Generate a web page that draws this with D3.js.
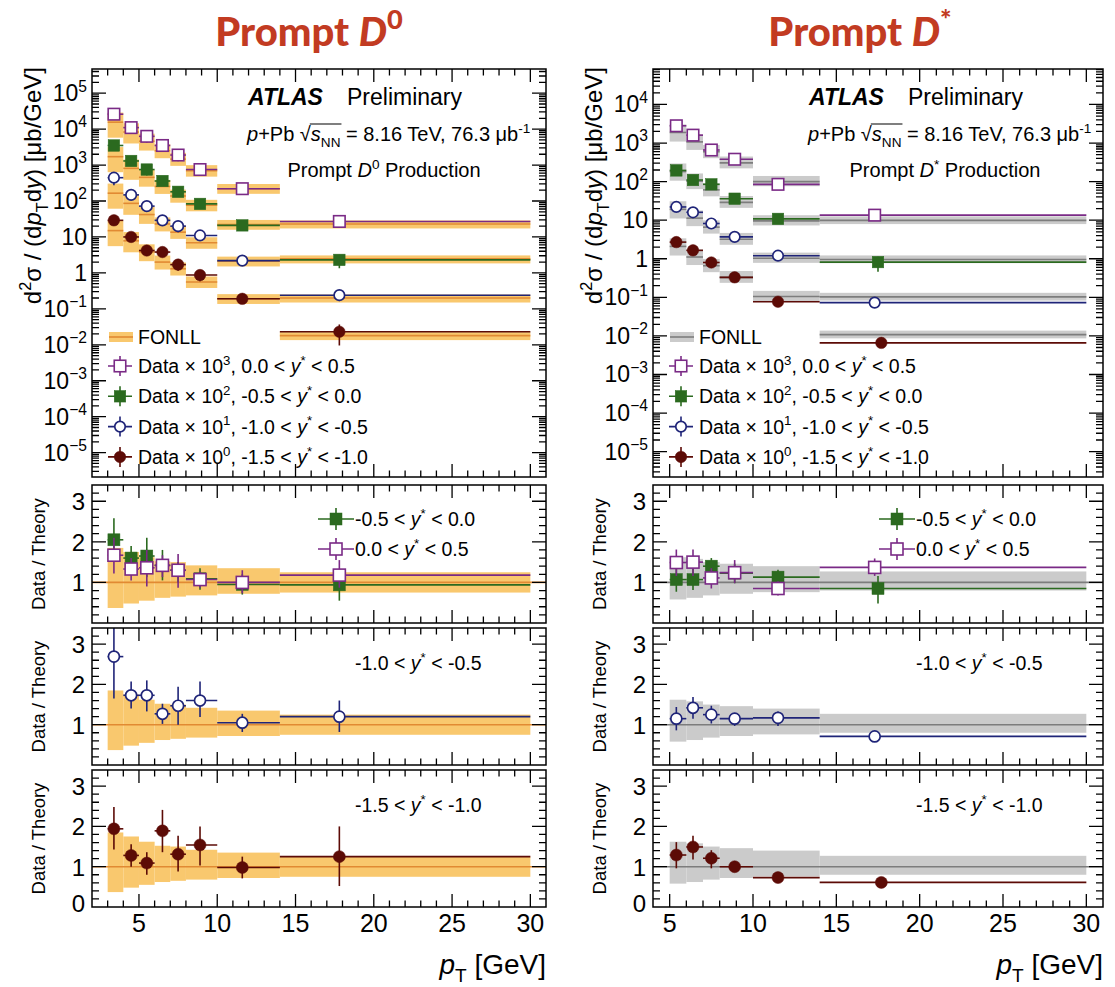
<!DOCTYPE html>
<html>
<head>
<meta charset="utf-8">
<script src="https://cdn.jsdelivr.net/npm/d3@7"></script>
<style>
body { margin: 0; background: #fff; }
text { font-family: "Liberation Sans", Arial, Helvetica, sans-serif; }
</style>
</head>
<body>
<div id="chart"></div>
<script>
// ---- data ----
var d0Edges  = [3, 4, 5, 6, 7, 8, 10, 14, 30];
var dstEdges = [5, 6, 7, 8, 10, 14, 30];

// mean pT of each bin, per rapidity slice
var d0PtPos  = [3.4, 4.5, 5.5, 6.5, 7.5, 8.9, 11.6, 17.8];
var d0PtMid  = [3.4, 4.5, 5.5, 6.5, 7.5, 8.9, 11.6, 17.8];
var d0PtNeg  = [3.4, 4.5, 5.5, 6.5, 7.5, 8.9, 11.6, 17.8];
var d0PtFwd  = [3.4, 4.5, 5.5, 6.5, 7.5, 8.9, 11.6, 17.8];
var dstPtPos = [5.4, 6.4, 7.5, 8.9, 11.5, 17.3];
var dstPtMid = [5.4, 6.4, 7.5, 8.9, 11.5, 17.5];
var dstPtNeg = [5.4, 6.4, 7.5, 8.9, 11.5, 17.3];
var dstPtFwd = [5.4, 6.4, 7.5, 8.9, 11.5, 17.7];

// cross sections as plotted (already scaled by 10^3, 10^2, 10^1, 10^0)
var d0DataPos  = [26000, 11000, 6300, 3500, 1900, 750, 220, 27];
var d0DataMid  = [3500, 1300, 750, 360, 180, 83, 21, 2.3];
var d0DataNeg  = [445, 148, 72, 29, 20, 11, 2.2, 0.24];
var d0DataFwd  = [29, 10, 4.2, 3.8, 1.7, 0.87, 0.19, 0.023];
var dstDataPos = [2800, 1600, 660, 380, 85, 13.5];
var dstDataMid = [195, 110, 85, 36, 10.8, 0.82];
var dstDataNeg = [22, 16, 8.2, 3.7, 1.2, 0.073];
var dstDataFwd = [2.7, 1.65, 0.8, 0.33, 0.077, 0.0066];

// FONLL central values (same scaling)
var d0FonllPos  = [15600, 8300, 4600, 2500, 1460, 700, 220, 23];
var d0FonllMid  = [1710, 810, 455, 254, 138, 76, 22, 2.45];
var d0FonllNeg  = [165, 86, 42, 23, 13.6, 6.9, 2.1, 0.2];
var d0FonllFwd  = [15, 7.8, 3.85, 2.0, 1.3, 0.56, 0.19, 0.018];
var dstFonllPos = [1880, 1070, 595, 306, 100, 9.9];
var dstFonllMid = [182, 103, 61, 29, 9.6, 0.96];
var dstFonllNeg = [19.1, 11.3, 6.6, 3.2, 1.03, 0.103];
var dstFonllFwd = [2.09, 1.11, 0.66, 0.33, 0.105, 0.0108];

// FONLL uncertainty band relative to central value
var d0BandLo  = [0.37, 0.48, 0.55, 0.62, 0.65, 0.68, 0.72, 0.75];
var d0BandHi  = [1.85, 1.75, 1.62, 1.52, 1.50, 1.42, 1.35, 1.25];
var dstBandLo = [0.58, 0.62, 0.68, 0.72, 0.76, 0.80];
var dstBandHi = [1.62, 1.58, 1.50, 1.46, 1.40, 1.27];

// Data / Theory with error bar ends
var d0RatioPos   = [1.67, 1.33, 1.36, 1.42, 1.30, 1.07, 1.00, 1.18];
var d0RatioPosLo = [1.22, 1.05, 0.90, 1.13, 0.87, 0.87, 0.73, 0.87];
var d0RatioPosHi = [2.10, 1.60, 1.80, 1.67, 1.70, 1.27, 1.30, 1.55];
var d0RatioMid   = [2.05, 1.60, 1.65, 1.42, 1.30, 1.09, 0.95, 0.94];
var d0RatioMidLo = [1.58, 1.27, 1.13, 1.05, 1.00, 0.82, 0.70, 0.55];
var d0RatioMidHi = [2.58, 1.90, 2.10, 1.80, 1.50, 1.35, 1.20, 1.30];
var d0RatioNeg   = [2.69, 1.73, 1.73, 1.27, 1.47, 1.60, 1.05, 1.20];
var d0RatioNegLo = [1.65, 1.40, 1.33, 1.02, 1.00, 1.19, 0.82, 0.82];
var d0RatioNegHi = [3.70, 2.07, 2.10, 1.52, 1.94, 2.07, 1.27, 1.60];
var d0RatioFwd   = [1.94, 1.28, 1.09, 1.89, 1.31, 1.54, 0.98, 1.25];
var d0RatioFwdLo = [1.43, 1.00, 0.80, 1.36, 0.88, 1.03, 0.71, 0.52];
var d0RatioFwdHi = [2.48, 1.56, 1.36, 2.41, 1.77, 2.00, 1.25, 2.00];

var dstRatioPos   = [1.49, 1.50, 1.11, 1.24, 0.85, 1.37];
var dstRatioPosLo = [1.16, 1.16, 0.85, 0.98, 0.68, 1.16];
var dstRatioPosHi = [1.81, 1.81, 1.35, 1.55, 1.03, 1.59];
var dstRatioMid   = [1.07, 1.07, 1.40, 1.23, 1.13, 0.85];
var dstRatioMidLo = [0.77, 0.81, 1.16, 0.98, 0.94, 0.48];
var dstRatioMidHi = [1.37, 1.33, 1.60, 1.46, 1.31, 1.16];
var dstRatioNeg   = [1.15, 1.42, 1.25, 1.15, 1.17, 0.71];
var dstRatioNegLo = [0.86, 1.15, 1.03, 0.97, 0.97, 0.68];
var dstRatioNegHi = [1.44, 1.69, 1.47, 1.28, 1.33, 0.74];
var dstRatioFwd   = [1.29, 1.49, 1.21, 1.00, 0.73, 0.61];
var dstRatioFwdLo = [0.96, 1.18, 0.96, 0.93, 0.68, 0.57];
var dstRatioFwdHi = [1.61, 1.77, 1.41, 1.07, 0.78, 0.65];

var yRanges  = [["0.0", "0.5"], ["-0.5", "0.0"], ["-1.0", "-0.5"], ["-1.5", "-1.0"]];
var scalePow = ["3", "2", "1", "0"];
var xTickLabels = [5, 10, 15, 20, 25, 30];
var ratioTickLabels = [0, 1, 2, 3];

// ---- styling ----
var colPurple = "#7a2a86", colGreen = "#2b6a1f", colBlue = "#1f2478", colRed = "#5c0b06";
var W = 1115, H = 987;
var rows = { top: [69, 477], r1: [485, 623], r2: [628, 765], r3: [770, 907] };
var ratioDom = [0, 3.4];

var svg = d3.select("#chart").append("svg").attr("width", W).attr("height", H);

function rich(sel, parts, size) {
    var shift = 0;
    parts.forEach(function (p) {
        var ts = sel.append("tspan").text(p.t);
        var target = p.sup ? -0.42 * size : (p.sub ? 0.3 * size : 0);
        ts.attr("dy", target - shift);
        shift = target;
        if (p.sup || p.sub) ts.attr("font-size", size * 0.68);
        if (p.i) ts.attr("font-style", "italic");
        if (p.b) ts.attr("font-weight", "bold");
        if (p.cls) ts.attr("class", p.cls);
    });
}

function makeSeries(pt, data, fonll, r, rlo, rhi, color, shape, idx) {
    return pt.map(function (x, i) {
        return { pt: x, i: i, data: data[i], fonll: fonll[i], r: r[i], rlo: rlo[i], rhi: rhi[i],
                 color: color, shape: shape, idx: idx };
    });
}

var columns = [
    {
        name: "D0", x0: 92, x1: 546, xDom: [2, 31], yDom: [2.1e-6, 4.7e5],
        edges: d0Edges, bandLo: d0BandLo, bandHi: d0BandHi,
        band: "#f9c86e", line: "#e18a33", titleX: 309,
        title: [{ t: "Prompt " }, { t: "D", i: true }, { t: "0", sup: true }],
        prod: [{ t: "Prompt " }, { t: "D", i: true }, { t: "0", sup: true }, { t: " Production" }],
        series: [
            makeSeries(d0PtPos, d0DataPos, d0FonllPos, d0RatioPos, d0RatioPosLo, d0RatioPosHi, colPurple, "osq", 0),
            makeSeries(d0PtMid, d0DataMid, d0FonllMid, d0RatioMid, d0RatioMidLo, d0RatioMidHi, colGreen, "sq", 1),
            makeSeries(d0PtNeg, d0DataNeg, d0FonllNeg, d0RatioNeg, d0RatioNegLo, d0RatioNegHi, colBlue, "oci", 2),
            makeSeries(d0PtFwd, d0DataFwd, d0FonllFwd, d0RatioFwd, d0RatioFwdLo, d0RatioFwdHi, colRed, "ci", 3)
        ],
        decades: [-5, 5]
    },
    {
        name: "Dst", x0: 653, x1: 1103, xDom: [4, 31], yDom: [2.2e-6, 8.3e4],
        edges: dstEdges, bandLo: dstBandLo, bandHi: dstBandHi,
        band: "#cbcbcb", line: "#7d7d7d", titleX: 860,
        title: [{ t: "Prompt " }, { t: "D", i: true }, { t: "*", sup: true }],
        prod: [{ t: "Prompt " }, { t: "D", i: true }, { t: "*", sup: true }, { t: " Production" }],
        series: [
            makeSeries(dstPtPos, dstDataPos, dstFonllPos, dstRatioPos, dstRatioPosLo, dstRatioPosHi, colPurple, "osq", 0),
            makeSeries(dstPtMid, dstDataMid, dstFonllMid, dstRatioMid, dstRatioMidLo, dstRatioMidHi, colGreen, "sq", 1),
            makeSeries(dstPtNeg, dstDataNeg, dstFonllNeg, dstRatioNeg, dstRatioNegLo, dstRatioNegHi, colBlue, "oci", 2),
            makeSeries(dstPtFwd, dstDataFwd, dstFonllFwd, dstRatioFwd, dstRatioFwdLo, dstRatioFwdHi, colRed, "ci", 3)
        ],
        decades: [-5, 4]
    }
];

function marker(g, cx, cy, shape, color, s) {
    if (shape === "sq" || shape === "osq") {
        g.append("rect").attr("x", cx - s / 2).attr("y", cy - s / 2).attr("width", s).attr("height", s)
         .style("fill", shape === "sq" ? color : "#fff").style("stroke", color)
         .style("stroke-width", shape === "sq" ? 0.5 : 1.6);
    } else {
        g.append("circle").attr("cx", cx).attr("cy", cy).attr("r", s / 2 - (shape === "oci" ? 0.5 : 0))
         .style("fill", shape === "ci" ? color : "#fff").style("stroke", color)
         .style("stroke-width", shape === "ci" ? 0.5 : 1.7);
    }
}

function xTicks(g, x, y0, y1, col) {
    var ints = d3.range(Math.ceil(col.xDom[0]), Math.floor(col.xDom[1]) + 1)
                 .filter(function (v) { return v > col.xDom[0] && v < col.xDom[1]; });
    g.selectAll(null).data(ints).enter().append("path")
     .attr("d", function (v) {
         var L = v % 5 === 0 ? 13 : 6.5, X = x(v);
         return "M" + X + "," + y1 + "v" + (-L) + "M" + X + "," + y0 + "v" + L;
     })
     .style("stroke", "#000").style("stroke-width", 1.3);
}

function frame(g, col, y0, y1) {
    g.append("rect").attr("x", col.x0).attr("y", y0).attr("width", col.x1 - col.x0).attr("height", y1 - y0)
     .style("fill", "none").style("stroke", "#000").style("stroke-width", 1.5);
}

columns.forEach(function (col, ci) {
    var g = svg.append("g").attr("id", "col-" + col.name);
    var x = d3.scaleLinear().domain(col.xDom).range([col.x0, col.x1]);

    // big title above
    var tt = g.append("text").attr("x", col.titleX).attr("y", 46)
        .attr("text-anchor", "middle").style("font-family", "Lato, 'Open Sans', sans-serif")
        .style("font-weight", "900").style("font-size", "40px").style("fill", "#c23b22");
    rich(tt, col.title, 40);

    // ------------- top panel -------------
    var yT = d3.scaleLog().domain(col.yDom).range([rows.top[1], rows.top[0]]);
    var clipId = "clip-top-" + col.name;
    g.append("clipPath").attr("id", clipId).append("rect")
     .attr("x", col.x0).attr("y", rows.top[0]).attr("width", col.x1 - col.x0).attr("height", rows.top[1] - rows.top[0]);
    var top = g.append("g").attr("clip-path", "url(#" + clipId + ")");

    col.series.forEach(function (s) {
        top.append("g").selectAll("rect").data(s).enter().append("rect")
           .attr("x", function (d) { return x(col.edges[d.i]); })
           .attr("width", function (d) { return x(col.edges[d.i + 1]) - x(col.edges[d.i]); })
           .attr("y", function (d) { return yT(d.fonll * col.bandHi[d.i]); })
           .attr("height", function (d) { return yT(d.fonll * col.bandLo[d.i]) - yT(d.fonll * col.bandHi[d.i]); })
           .style("fill", col.band);
    });
    col.series.forEach(function (s) {
        top.append("g").selectAll("line").data(s).enter().append("line")
           .attr("x1", function (d) { return x(col.edges[d.i]); })
           .attr("x2", function (d) { return x(col.edges[d.i + 1]); })
           .attr("y1", function (d) { return yT(d.fonll); })
           .attr("y2", function (d) { return yT(d.fonll); })
           .style("stroke", col.line).style("stroke-width", 1.6);
    });
    col.series.forEach(function (s) {
        var sg = top.append("g").attr("class", "series");
        s.forEach(function (d) {
            var yy = yT(d.data);
            sg.append("line").attr("x1", x(col.edges[d.i])).attr("x2", x(col.edges[d.i + 1]))
              .attr("y1", yy).attr("y2", yy).style("stroke", d.color).style("stroke-width", 1.6);
            sg.append("line").attr("x1", x(d.pt)).attr("x2", x(d.pt))
              .attr("y1", yT(d.data * d.rhi / d.r)).attr("y2", yT(d.data * d.rlo / d.r))
              .style("stroke", d.color).style("stroke-width", 1.6);
            marker(sg, x(d.pt), yy, d.shape, d.color, 11.5);
        });
    });

    frame(g, col, rows.top[0], rows.top[1]);
    xTicks(g, x, rows.top[0], rows.top[1], col);

    // log y ticks
    var minors = [];
    for (var k = -7; k <= 6; k++) {
        for (var m = 1; m <= 9; m++) {
            var v = m * Math.pow(10, k);
            if (v > col.yDom[0] && v < col.yDom[1]) minors.push({ v: v, major: m === 1, k: k });
        }
    }
    g.append("g").selectAll("path").data(minors).enter().append("path")
     .attr("d", function (d) {
         var L = d.major ? 14 : 7, Y = yT(d.v);
         return "M" + col.x0 + "," + Y + "h" + L + "M" + col.x1 + "," + Y + "h" + (-L);
     })
     .style("stroke", "#000").style("stroke-width", 1.3);
    d3.range(col.decades[0], col.decades[1] + 1).forEach(function (k) {
        var lt = g.append("text").attr("x", col.x0 - 5).attr("y", yT(Math.pow(10, k)) + 8)
                  .attr("text-anchor", "end").style("font-size", "23px");
        if (k === 0) rich(lt, [{ t: "1" }], 23);
        else if (k === 1) rich(lt, [{ t: "10" }], 23);
        else rich(lt, [{ t: "10" }, { t: (k < 0 ? "\u2212" : "") + Math.abs(k), sup: true }], 23);
    });

    // y title
    var yt = g.append("text").attr("transform", "translate(" + (col.x0 - 51) + "," + (rows.top[0] - 2) + ") rotate(-90)")
              .attr("text-anchor", "end").style("font-size", "24px");
    rich(yt, [{ t: "d" }, { t: "2", sup: true }, { t: "\u03C3 / (d" }, { t: "p", i: true }, { t: "T", sub: true },
              { t: "d" }, { t: "y", i: true }, { t: ") [\u03BCb/GeV]" }], 24);

    // ATLAS label block
    var tx = col.x0 + 156;
    g.append("text").attr("x", tx).attr("y", 105).style("font-size", "23px")
     .style("font-weight", "bold").style("font-style", "italic").text("ATLAS");
    g.append("text").attr("x", tx + 99).attr("y", 105).style("font-size", "23px").text("Preliminary");
    var en = g.append("text").attr("x", tx - 1).attr("y", 141).style("font-size", "20px");
    rich(en, [{ t: "p", i: true }, { t: "+Pb " }, { t: "\u221A" }, { t: "s", i: true, cls: "rad" }, { t: "NN", sub: true, cls: "rad" },
              { t: " = 8.16 TeV, 76.3 \u03BCb" }, { t: "-1", sup: true }], 20);
    var radBoxes = [];
    en.selectAll("tspan.rad").each(function () { radBoxes.push(this.getBBox()); });
    if (radBoxes.length) {
        var rx0 = radBoxes[0].x - 1, rx1 = radBoxes[radBoxes.length - 1].x + radBoxes[radBoxes.length - 1].width + 1;
        g.append("line").attr("x1", rx0).attr("x2", rx1).attr("y1", 124).attr("y2", 124)
         .style("stroke", "#000").style("stroke-width", 1.1);
    }
    var pr = g.append("text").attr("x", col.x0 + 292).attr("y", 177)
              .attr("text-anchor", "middle").style("font-size", "20px");
    rich(pr, col.prod, 20);

    // legend in top panel
    var lg = g.append("g");
    var lx = col.x0 + 28;
    lg.append("rect").attr("x", lx - 11).attr("y", 332).attr("width", 24).attr("height", 10).style("fill", col.band);
    lg.append("line").attr("x1", lx - 11).attr("x2", lx + 13).attr("y1", 337).attr("y2", 337)
      .style("stroke", col.line).style("stroke-width", 1.6);
    lg.append("text").attr("x", lx + 18).attr("y", 344).style("font-size", "19.5px").text("FONLL");
    col.series.forEach(function (s, j) {
        var ly = 366 + j * 30.3;
        var c = s[0].color;
        lg.append("path").attr("d", "M" + (lx - 12) + "," + ly + "h24M" + lx + "," + (ly - 10) + "v20")
          .style("stroke", c).style("stroke-width", 1.6);
        marker(lg, lx, ly, s[0].shape, c, 11.5);
        var t = lg.append("text").attr("x", lx + 18).attr("y", ly + 7).style("font-size", "19.5px");
        rich(t, [{ t: "Data \u00D7 10" }, { t: scalePow[j], sup: true }, { t: ", " + yRanges[j][0] + " < " },
                 { t: "y", i: true }, { t: "*", sup: true }, { t: " < " + yRanges[j][1] }], 19.5);
    });

    // ------------- ratio panels -------------
    var ratioRows = [rows.r1, rows.r2, rows.r3];
    var ratioSets = [[col.series[1], col.series[0]], [col.series[2]], [col.series[3]]];
    ratioRows.forEach(function (rr, pi) {
        var y = d3.scaleLinear().domain(ratioDom).range([rr[1], rr[0]]);
        var cid = "clip-r" + pi + "-" + col.name;
        g.append("clipPath").attr("id", cid).append("rect")
         .attr("x", col.x0).attr("y", rr[0]).attr("width", col.x1 - col.x0).attr("height", rr[1] - rr[0]);
        var pg = g.append("g").attr("clip-path", "url(#" + cid + ")");

        pg.append("g").selectAll("rect").data(col.bandLo).enter().append("rect")
          .attr("x", function (d, i) { return x(col.edges[i]); })
          .attr("width", function (d, i) { return x(col.edges[i + 1]) - x(col.edges[i]); })
          .attr("y", function (d, i) { return y(col.bandHi[i]); })
          .attr("height", function (d, i) { return y(col.bandLo[i]) - y(col.bandHi[i]); })
          .style("fill", col.band);
        pg.append("line").attr("x1", col.x0).attr("x2", col.x1).attr("y1", y(1)).attr("y2", y(1))
          .style("stroke", col.line).style("stroke-width", 1.6);

        ratioSets[pi].forEach(function (s) {
            var sg = pg.append("g");
            s.forEach(function (d) {
                sg.append("line").attr("x1", x(col.edges[d.i])).attr("x2", x(col.edges[d.i + 1]))
                  .attr("y1", y(d.r)).attr("y2", y(d.r)).style("stroke", d.color).style("stroke-width", 1.6);
                sg.append("line").attr("x1", x(d.pt)).attr("x2", x(d.pt))
                  .attr("y1", y(d.rhi)).attr("y2", y(d.rlo)).style("stroke", d.color).style("stroke-width", 1.6);
                marker(sg, x(d.pt), y(d.r), d.shape, d.color, 12);
            });
        });

        frame(g, col, rr[0], rr[1]);
        xTicks(g, x, rr[0], rr[1], col);
        var yt2 = d3.range(0, ratioDom[1] + 0.001, 0.2).filter(function (v) { return v > 0.01 && v < ratioDom[1] - 0.01; });
        g.append("g").selectAll("path").data(yt2).enter().append("path")
         .attr("d", function (v) {
             var major = Math.abs(v - Math.round(v)) < 0.01;
             var L = major ? 14 : 7, Y = y(v);
             return "M" + col.x0 + "," + Y + "h" + L + "M" + col.x1 + "," + Y + "h" + (-L);
         })
         .style("stroke", "#000").style("stroke-width", 1.3);
        ratioTickLabels.filter(function (v) { return v > 0 || pi === 2; }).forEach(function (v) {
            g.append("text").attr("x", col.x0 - 7).attr("y", y(v) + (v === 0 ? 5 : 9))
             .attr("text-anchor", "end").style("font-size", "24px").text(v);
        });
        g.append("text").attr("transform", "translate(" + (col.x0 - 47) + "," + ((rr[0] + rr[1]) / 2) + ") rotate(-90)")
         .attr("text-anchor", "middle").style("font-size", "18.5px").text("Data / Theory");

        // legend / label
        if (pi === 0) {
            ratioSets[0].forEach(function (s, j) {
                var mx = col.x0 + 244, my = 519 + j * 30;
                var c = s[0].color;
                g.append("path").attr("d", "M" + (mx - 18) + "," + my + "h36M" + mx + "," + (my - 11) + "v22")
                 .style("stroke", c).style("stroke-width", 1.6);
                marker(g, mx, my, s[0].shape, c, 12);
                var t = g.append("text").attr("x", mx + 19).attr("y", my + 7).style("font-size", "19.5px");
                var yr = yRanges[s[0].idx];
                rich(t, [{ t: yr[0] + " < " }, { t: "y", i: true }, { t: "*", sup: true }, { t: " < " + yr[1] }], 19.5);
            });
        } else {
            var t2 = g.append("text").attr("x", col.x0 + 263).attr("y", rr[0] + 42).style("font-size", "19.5px");
            var yr2 = yRanges[pi + 1];
            rich(t2, [{ t: yr2[0] + " < " }, { t: "y", i: true }, { t: "*", sup: true }, { t: " < " + yr2[1] }], 19.5);
        }
    });

    // x labels on bottom panel
    g.append("g").selectAll("text").data(xTickLabels).enter().append("text")
     .attr("x", function (v) { return x(v); }).attr("y", rows.r3[1] + 25)
     .attr("text-anchor", "middle").style("font-size", "25px").text(function (v) { return v; });
    var xt = g.append("text").attr("x", col.x1).attr("y", 974).attr("text-anchor", "end").style("font-size", "28px");
    rich(xt, [{ t: "p", i: true }, { t: "T", sub: true }, { t: " [GeV]" }], 28);
});
</script>
</body>
</html>
